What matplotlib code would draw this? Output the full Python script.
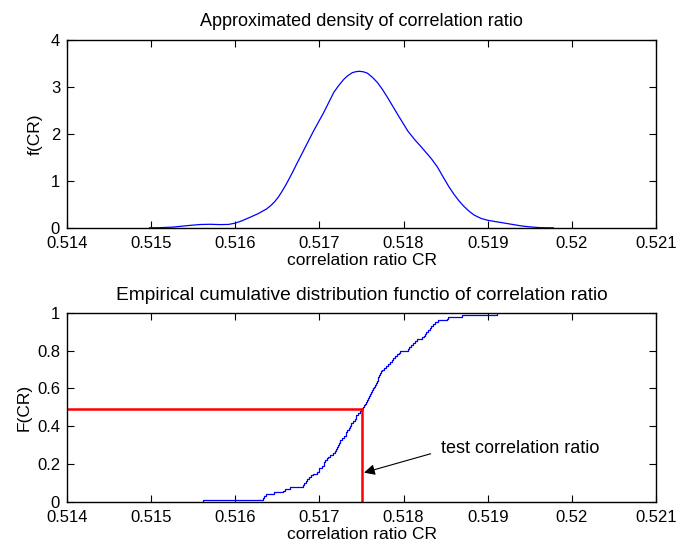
import numpy as np
import matplotlib
matplotlib.use("Agg")
import matplotlib.pyplot as plt

plt.rcParams['font.family'] = ['Liberation Sans', 'DejaVu Sans']

# approximated (kernel) density of the correlation ratio
cr_grid = [0.51498, 0.51510, 0.51526, 0.51542, 0.51558, 0.51570, 0.51582, 0.51592,
           0.51600, 0.51608, 0.51617, 0.51627, 0.51637, 0.51642, 0.51647, 0.51651,
           0.51655, 0.51659, 0.51663, 0.51668, 0.51673, 0.51683, 0.51693, 0.51705,
           0.51717, 0.51723, 0.51729, 0.51734, 0.51739, 0.51743, 0.51747, 0.51752,
           0.51757, 0.51763, 0.51769, 0.51775, 0.51781, 0.51793, 0.51805, 0.51813,
           0.51821, 0.51833, 0.51840, 0.51848, 0.51854, 0.51860, 0.51866, 0.51872,
           0.51878, 0.51884, 0.51892, 0.51900, 0.51910, 0.51920, 0.51930, 0.51940,
           0.51950, 0.51960, 0.51970, 0.51978]
density = [0.0, 0.003, 0.015, 0.045, 0.07, 0.075, 0.068, 0.072,
           0.10, 0.15, 0.22, 0.30, 0.40, 0.47, 0.56, 0.65,
           0.76, 0.88, 1.01, 1.18, 1.36, 1.71, 2.06, 2.45,
           2.88, 3.03, 3.16, 3.24, 3.30, 3.32, 3.33, 3.32,
           3.29, 3.20, 3.09, 2.94, 2.77, 2.41, 2.06, 1.88,
           1.72, 1.47, 1.30, 1.05, 0.87, 0.71, 0.57, 0.45,
           0.35, 0.27, 0.20, 0.16, 0.13, 0.10, 0.07, 0.04,
           0.02, 0.006, 0.001, 0.0]

# bootstrap sample of correlation ratios (sorted)
cr_samples = [0.51562, 0.51633, 0.51634, 0.51636, 0.51646, 0.51657, 0.51659, 0.51665,
              0.51680, 0.51682, 0.51684, 0.51685, 0.51688, 0.51690, 0.51692, 0.51697,
              0.51699, 0.51700, 0.51703, 0.51705, 0.51706, 0.51707, 0.51709, 0.51710,
              0.51712, 0.51716, 0.51718, 0.51720, 0.51721, 0.51722, 0.51723, 0.51724,
              0.51725, 0.51727, 0.51729, 0.51731, 0.51732, 0.51733, 0.51735, 0.51736,
              0.51737, 0.51738, 0.51740, 0.51742, 0.51743, 0.51744, 0.51746, 0.51748,
              0.51749, 0.51752, 0.51753, 0.51754, 0.51755, 0.51756, 0.51758, 0.51759,
              0.51760, 0.51761, 0.51763, 0.51764, 0.51765, 0.51766, 0.51767, 0.51768,
              0.51769, 0.51770, 0.51771, 0.51772, 0.51773, 0.51774, 0.51777, 0.51779,
              0.51782, 0.51784, 0.51786, 0.51788, 0.51790, 0.51792, 0.51794, 0.51796,
              0.51805, 0.51807, 0.51809, 0.51811, 0.51814, 0.51816, 0.51822, 0.51824,
              0.51826, 0.51827, 0.51829, 0.51831, 0.51833, 0.51835, 0.51837, 0.51841,
              0.51852, 0.51853, 0.51869, 0.51911]

test_cr = 0.51750
test_F = 0.49

x_ticks = [0.514, 0.515, 0.516, 0.517, 0.518, 0.519, 0.520, 0.521]
x_labels = ['0.514', '0.515', '0.516', '0.517', '0.518', '0.519', '0.52', '0.521']

fig = plt.figure(figsize=(6.77, 5.45), dpi=100)
ax1 = fig.add_axes([0.099, 0.582, 0.870, 0.345])
ax2 = fig.add_axes([0.099, 0.079, 0.870, 0.347])


def matlab_axes(ax):
    ax.set_xlim(0.514, 0.521)
    ax.set_xticks(x_ticks)
    ax.set_xticklabels(x_labels)
    ax.tick_params(direction='in', top=True, right=True, length=5, width=0.8,
                   labelsize=12)
    ax.tick_params(axis='x', pad=6)
    ax.tick_params(axis='y', pad=5)
    for sp in ax.spines.values():
        sp.set_linewidth(1.0)
    ax.set_xlabel('correlation ratio CR', fontsize=12.5, labelpad=1)


ax1.plot(cr_grid, density, color='#0000ff', lw=0.9)
matlab_axes(ax1)
ax1.set_ylim(0, 4)
ax1.set_yticks([0, 1, 2, 3, 4])
ax1.set_ylabel('f(CR)', fontsize=12.5, labelpad=6)
ax1.set_title('Approximated density of correlation ratio', fontsize=13, pad=10)

# empirical cdf as a staircase
xs = np.array(cr_samples)
Fs = np.arange(1, len(xs) + 1) / len(xs)
ax2.step(np.r_[xs[0], xs], np.r_[0.0, Fs], where='post', color='#0000ff', lw=0.9)
ax2.plot([0.514, test_cr], [test_F, test_F], color='#ff0000', lw=1.8)
ax2.plot([test_cr, test_cr], [0, test_F], color='#ff0000', lw=1.8)
matlab_axes(ax2)
ax2.set_ylim(0, 1)
ax2.set_yticks([0, 0.2, 0.4, 0.6, 0.8, 1])
ax2.set_yticklabels(['0', '0.2', '0.4', '0.6', '0.8', '1'])
ax2.set_ylabel('F(CR)', fontsize=12.5, labelpad=4)
ax2.set_title('Empirical cumulative distribution functio of correlation ratio',
              fontsize=13.8, pad=9)
ax2.annotate('test correlation ratio', xy=(test_cr + 0.00003, 0.155),
             xytext=(0.51845, 0.28), fontsize=13, va='center', ha='left',
             arrowprops=dict(arrowstyle='-|>', color='k', lw=0.8,
                             mutation_scale=16, shrinkA=6, shrinkB=0,
                             relpos=(0, 0.4)))

fig.savefig('out.png', dpi=100)
